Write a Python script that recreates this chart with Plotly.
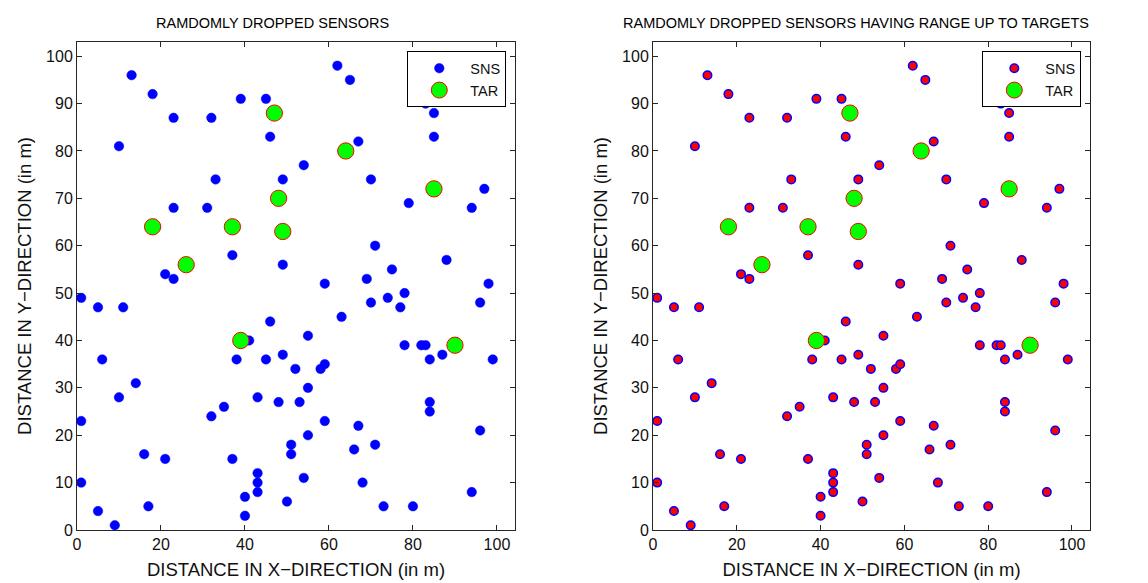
import plotly.graph_objects as go

# Sensor positions (same in both panels)
sns_x = [13, 18, 23, 32, 39, 45, 46, 10, 33, 49, 23, 31, 37, 49, 21, 23, 1, 5, 11,
         62, 65, 83, 85, 90, 85, 67, 54, 70, 97, 79, 94, 71, 88, 75, 69, 59, 98, 78,
         70, 74, 77, 96, 63, 41, 46, 6, 38, 45, 49, 52, 14, 10, 43, 48, 53, 1, 32, 35,
         16, 21, 37, 51, 51, 1, 43, 43, 43, 40, 40, 50, 5, 17, 9, 55, 78, 82, 83, 87,
         84, 99, 58, 59, 55, 84, 84, 59, 67, 55, 96, 66, 71, 54, 68, 94, 73, 80]
sns_y = [96, 92, 87, 87, 91, 91, 83, 81, 74, 74, 68, 68, 58, 56, 54, 53, 49, 47, 47,
         98, 95, 90, 88, 92, 83, 82, 77, 74, 72, 69, 68, 60, 57, 55, 53, 52, 52, 50,
         48, 49, 47, 48, 45, 40, 44, 36, 36, 36, 37, 34, 31, 28, 28, 27, 27, 23, 24, 26,
         16, 15, 15, 18, 16, 10, 12, 10, 8, 7, 3, 6, 4, 5, 1, 41, 39, 39, 39, 37,
         36, 36, 34, 35, 30, 27, 25, 23, 22, 20, 21, 17, 18, 11, 10, 8, 5, 5]

# Target positions
tar_x = [47, 48, 18, 37, 49, 26, 64, 85, 39, 90]
tar_y = [88, 70, 64, 64, 63, 56, 80, 72, 40, 39]

titles = ["RAMDOMLY DROPPED SENSORS", "RAMDOMLY DROPPED SENSORS HAVING RANGE UP TO TARGETS"]
x_title = "DISTANCE IN X\u2212DIRECTION (in m)"
y_title = "DISTANCE IN Y\u2212DIRECTION (in m)"
x_ticks = [0, 20, 40, 60, 80, 100]
y_ticks = [0, 10, 20, 30, 40, 50, 60, 70, 80, 90, 100]

FONT = "Helvetica, 'Liberation Sans', Arial, sans-serif"
TXT = "#111111"

fig = go.Figure()

# Left panel
fig.add_trace(go.Scatter(x=sns_x, y=sns_y, mode="markers", name="SNS",
                         marker=dict(color="#0000ff", size=9.5, line=dict(color="#0000ff", width=0.5)),
                         xaxis="x", yaxis="y", legend="legend"))
fig.add_trace(go.Scatter(x=tar_x, y=tar_y, mode="markers", name="TAR",
                         marker=dict(color="#00ff00", size=16.3, line=dict(color="#ff0000", width=1)),
                         xaxis="x", yaxis="y", legend="legend"))
# Right panel
fig.add_trace(go.Scatter(x=sns_x, y=sns_y, mode="markers", name="SNS",
                         marker=dict(color="#ff0000", size=8.5, line=dict(color="#0000ff", width=1.5)),
                         xaxis="x2", yaxis="y2", legend="legend2"))
fig.add_trace(go.Scatter(x=tar_x, y=tar_y, mode="markers", name="TAR",
                         marker=dict(color="#00ff00", size=16.3, line=dict(color="#ff0000", width=1)),
                         xaxis="x2", yaxis="y2", legend="legend2"))

W, H = 1148, 583
ml, mr, mt, mb = 69, 66, 34, 61
pw = W - ml - mr
ph = H - mt - mb

axis_common = dict(showline=True, linecolor="#262626", linewidth=1, mirror="allticks",
                   ticks="inside", ticklen=5, tickcolor="#262626", showgrid=False, zeroline=False,
                   tickfont=dict(family=FONT, size=16, color=TXT),
                   title_font=dict(family=FONT, size=18.5, color=TXT))

xl = dict(axis_common, range=[0, 104.3], tickvals=x_ticks, title=dict(text=x_title, standoff=10))
yl = dict(axis_common, range=[0, 103], tickvals=y_ticks, title=dict(text=y_title, standoff=9))

leg_common = dict(y=1 - (43.3 - mt) / ph, xanchor="right", yanchor="top",
                  bgcolor="white", bordercolor="black", borderwidth=1, itemwidth=52,
                  font=dict(family=FONT, size=14.5, color=TXT), tracegroupgap=0)

fig.update_layout(
    width=W, height=H,
    margin=dict(l=ml, r=mr, t=mt, b=mb),
    paper_bgcolor="white", plot_bgcolor="white",
    showlegend=True,
    xaxis=dict(xl, domain=[0, (507 - ml) / pw], anchor="y"),
    yaxis=dict(yl, domain=[0, 1], anchor="x"),
    xaxis2=dict(xl, domain=[(645 - ml) / pw, 1], anchor="y2"),
    yaxis2=dict(yl, domain=[0, 1], anchor="x2"),
    legend=dict(leg_common, x=(498.3 - ml) / pw),
    legend2=dict(leg_common, x=(1073.3 - ml) / pw),
    annotations=[
        dict(text=titles[0], x=(264 - ml) / pw, y=1 - (15 - mt) / ph, xref="paper", yref="paper",
             showarrow=False, xanchor="center", yanchor="middle",
             font=dict(family=FONT, size=14.5, color="black")),
        dict(text=titles[1], x=(848 - ml) / pw, y=1 - (15 - mt) / ph, xref="paper", yref="paper",
             showarrow=False, xanchor="center", yanchor="middle",
             font=dict(family=FONT, size=14.5, color="black")),
    ],
)

fig.write_html("out.html")
